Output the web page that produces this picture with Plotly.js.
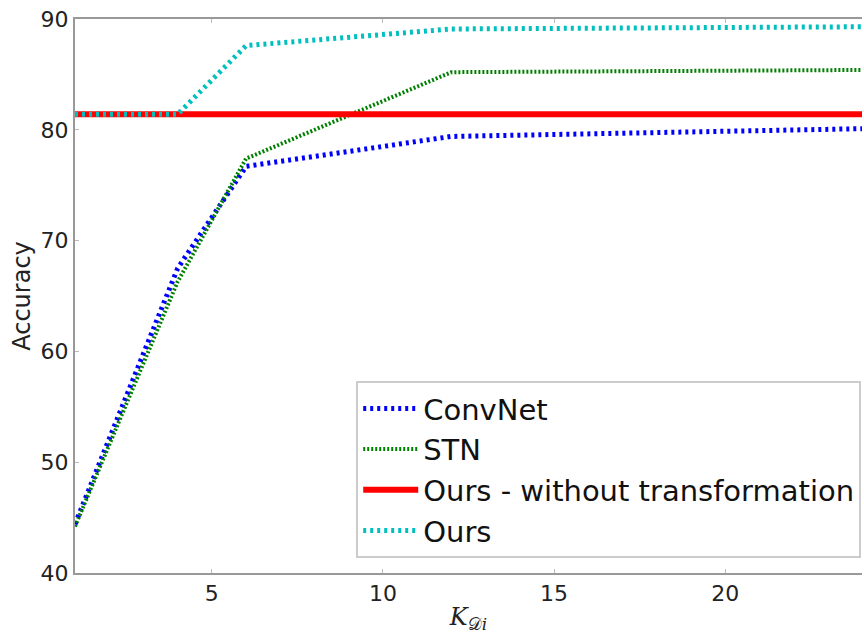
<!DOCTYPE html>
<html>
<head>
<meta charset="utf-8">
<script src="https://cdn.plot.ly/plotly-3.0.1.min.js"></script>
<style>html,body{margin:0;padding:0;background:#fff;}#chart{width:864px;height:634px;}</style>
</head>
<body>
<div id="chart"></div>
<script>
// Data
const kValues = [1, 4, 6, 12, 24];
const convnetAcc = [44.4, 67.5, 76.7, 79.4, 80.1];
const stnAcc = [44.2, 66.3, 77.4, 85.2, 85.4];
const oursNoTransfAcc = [81.4, 81.4, 81.4, 81.4, 81.4];
const oursAcc = [81.4, 81.4, 87.6, 89.1, 89.3];
const seriesNames = ["ConvNet", "STN", "Ours - without transformation", "Ours"];
const xTicks = [5, 10, 15, 20];
const yTicks = [40, 50, 60, 70, 80, 90];

const traces = [
  {x: kValues, y: convnetAcc, name: seriesNames[0], mode: "lines",
   line: {color: "#0000ff", width: 5, dash: "3px,4px"}},
  {x: kValues, y: stnAcc, name: seriesNames[1], mode: "lines",
   line: {color: "#008000", width: 4, dash: "2px,2px"}},
  {x: kValues, y: oursNoTransfAcc, name: seriesNames[2], mode: "lines",
   line: {color: "#ff0000", width: 6}},
  {x: kValues, y: oursAcc, name: seriesNames[3], mode: "lines",
   line: {color: "#00bfbf", width: 5, dash: "3px,4px"}}
];

const font = "DejaVu Sans, sans-serif";
const layout = {
  width: 864, height: 634,
  margin: {l: 75, r: 2, t: 19, b: 61},
  paper_bgcolor: "#fff", plot_bgcolor: "#fff",
  showlegend: true,
  font: {family: font, color: "#222", size: 22},
  xaxis: {
    range: [1, 24], tickvals: xTicks, ticktext: xTicks.map(String),
    showgrid: false, zeroline: false, showline: true, mirror: "ticks",
    linecolor: "#999", linewidth: 2, ticks: "inside", ticklen: 4, tickcolor: "#bbb",
    tickfont: {family: font, size: 22, color: "#222"},
    title: {text: "<i>K</i><sub>𝒟<i>i</i></sub>", font: {family: "DejaVu Serif, serif", size: 24, color: "#222"}, standoff: 4}
  },
  yaxis: {
    range: [40, 90], tickvals: yTicks, ticktext: yTicks.map(String),
    showgrid: false, zeroline: false, showline: true,
    linecolor: "#999", linewidth: 2, ticks: "inside", ticklen: 4, tickcolor: "#bbb",
    tickfont: {family: font, size: 22, color: "#222"},
    title: {text: "Accuracy", font: {family: font, size: 24, color: "#222"}, standoff: 3}
  },
  legend: {
    x: 0.999, xanchor: "right", y: 0.027, yanchor: "bottom",
    bgcolor: "#fff", bordercolor: "#ccc", borderwidth: 2,
    font: {family: font, size: 29, color: "#111"},
    itemwidth: 55, tracegroupgap: 0
  }
};

Plotly.newPlot("chart", traces, layout, {displayModeBar: false, staticPlot: true});
</script>
</body>
</html>
